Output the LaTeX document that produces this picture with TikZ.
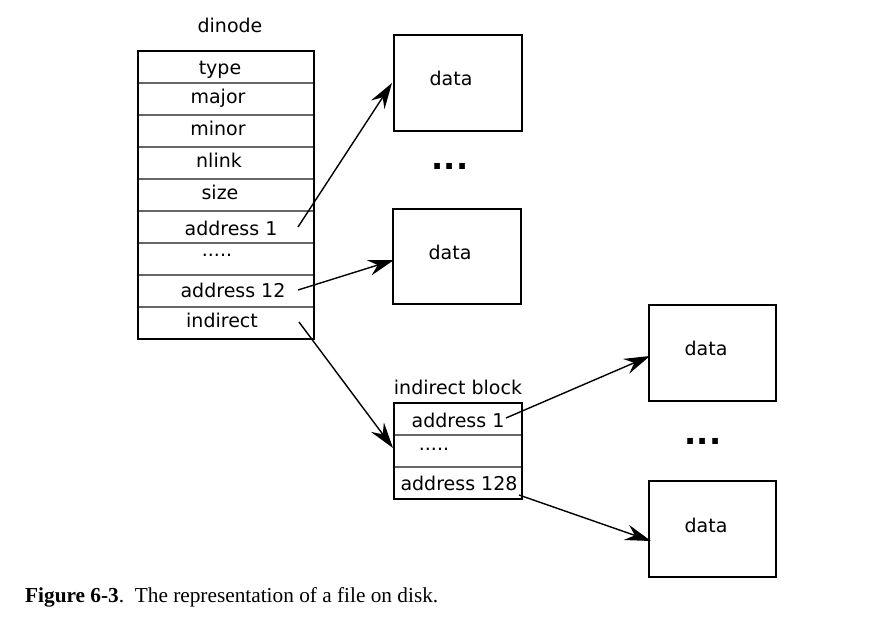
\documentclass[tikz,border=0pt]{standalone}
\usepackage{fontspec}
\setmainfont{DejaVu Sans}
\newfontfamily\capfont{Liberation Serif}
\usetikzlibrary{arrows.meta}
\begin{document}
\begin{tikzpicture}[x=1pt,y=-1pt,
  lbl/.style={font=\fontsize{19}{22}\selectfont, inner sep=0pt, anchor=center, text height=14pt, text depth=4pt},
  blk/.style={draw=black, line width=1.8pt},
  rowline/.style={draw=black!60, line width=1.3pt},
  ptr/.style={draw=black, line width=1.4pt, -{Stealth[length=26pt,width=16pt,inset=9pt]}},
  dots/.style={font=\fontsize{32}{32}\selectfont\bfseries, inner sep=0pt}]
\useasboundingbox (0,0) rectangle (876,620);
\fill[white] (0,0) rectangle (876,620);

% dinode table
\node[lbl] (title) at (230,28) {dinode};
\foreach \y in {83,115,147,179,211,243,275,307} {\draw[rowline] (138,\y) -- (314,\y);}
\draw[blk] (138,51) rectangle (314,339);
\node[lbl] (type) at (220,70) {type};
\node[lbl] (major) at (218,99) {major};
\node[lbl] (minor) at (218,131) {minor};
\node[lbl] (nlink) at (219,163) {nlink};
\node[lbl] (size) at (220,195) {size};
\node[lbl] (a1) at (231,231) {address 1};
\node[lbl] (dd) at (217,252) {.....};
\node[lbl] (a12) at (233,293) {address 12};
\node[lbl] (ind) at (222,323) {indirect};
\coordinate (a1s) at (298,227);
\coordinate (a12s) at (298,290);
\coordinate (inds) at (299,322);

% data boxes
\draw[blk] (394,35) rectangle (522,131);
\node[lbl] (d1) at (451,81) {data};
\coordinate (d1e) at (392,83);
\node[dots] (dots1) at (450,166) {...};
\draw[blk] (393,209) rectangle (521,304);
\node[lbl] (d2) at (450,255) {data};
\coordinate (d2e) at (394,260);
\draw[blk] (649,305) rectangle (776,401);
\node[lbl] (d3) at (706,351) {data};
\coordinate (d3e) at (650,356);
\node[dots] (dots2) at (703,441) {...};
\draw[blk] (649,481) rectangle (776,577);
\node[lbl] (d4) at (706,527) {data};
\coordinate (d4e) at (651,541);

% indirect block
\node[lbl] (ibt) at (458,390) {indirect block};
\foreach \y in {435,467} {\draw[rowline] (394,\y) -- (522,\y);}
\draw[blk] (394,403) rectangle (522,499);
\node[lbl] (ia1) at (458,423) {address 1};
\node[lbl] (idd) at (434,445) {.....};
\node[lbl] (ia128) at (459,485) {address 128};
\coordinate (ia1s) at (506,418);
\coordinate (ia128s) at (519,495);
\coordinate (ibe) at (393,448);

% pointers
\draw[ptr] (a1s) -- (d1e);
\draw[ptr] (a12s) -- (d2e);
\draw[ptr] (inds) -- (ibe);
\draw[ptr] (ia1s) -- (d3e);
\draw[ptr] (ia128s) -- (d4e);

% caption
\node[anchor=west, inner sep=0pt, font=\capfont\fontsize{21.3}{24}\selectfont] (cap) at (25,597) {\textbf{Figure 6-3}.\ \ The representation of a file on disk.};
\end{tikzpicture}
\end{document}
